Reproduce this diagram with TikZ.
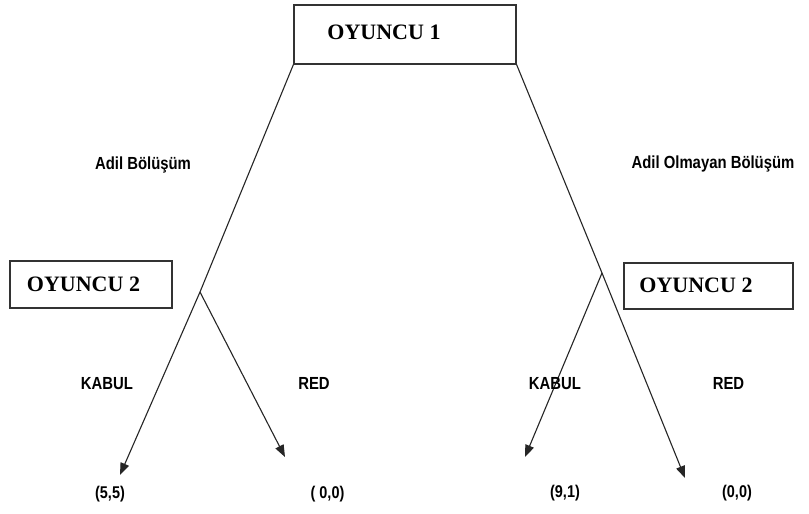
\documentclass[tikz,border=0pt]{standalone}
\usepackage{fontspec}
\newfontfamily\labfont{Liberation Sans}[FakeStretch=0.85]
\newfontfamily\serfont{Liberation Serif}
\usetikzlibrary{arrows.meta}
\tikzset{
  playerbox/.style={draw=black!80, line width=1.2pt, inner sep=0pt},
  playertext/.style={font=\serfont\bfseries\fontsize{22}{24}\selectfont, inner sep=0pt, anchor=center},
  lab/.style={font=\labfont\bfseries\fontsize{17.5}{20}\selectfont, inner sep=0pt, anchor=base},
  pay/.style={font=\labfont\bfseries\fontsize{17}{20}\selectfont, inner sep=0pt, anchor=center},
  branch/.style={draw=black!85, line width=1.1pt},
  move/.style={draw=black!85, line width=1.1pt, -{Triangle[length=12pt,width=9pt]}}
}
\begin{document}
\begin{tikzpicture}[x=1pt,y=-1pt]
\useasboundingbox[fill=white] (0,0) rectangle (809,514);
% player boxes
\node[playerbox, minimum width=222pt, minimum height=59pt] (p1) at (405,34.5) {};
\node[playertext] (t1) at (384,32) {OYUNCU 1};
\node[playerbox, minimum width=162pt, minimum height=47pt] (p2l) at (91,284.5) {};
\node[playertext] (t2l) at (83.5,284.5) {OYUNCU 2};
\node[playerbox, minimum width=169pt, minimum height=46pt] (p2r) at (708.5,286) {};
\node[playertext] (t2r) at (696,285.5) {OYUNCU 2};
% fork points and tips
\coordinate (f1) at (200,292);
\coordinate (f2) at (602,273);
\coordinate (a1) at (120,475);
\coordinate (a2) at (285,457);
\coordinate (a3) at (525,457);
\coordinate (a4) at (685,478);
% branches
\draw[branch] (p1.south west) -- (f1);
\draw[branch] (p1.south east) -- (f2);
\draw[move] (f1) -- (a1);
\draw[move] (f1) -- (a2);
\draw[move] (f2) -- (a3);
\draw[move] (f2) -- (a4);
% labels
\node[lab] (l1) at (143,169) {Adil Bölüşüm};
\node[lab] (l2) at (713,168) {Adil Olmayan Bölüşüm};
\node[lab] (k1) at (107,389) {KABUL};
\node[lab] (r1) at (314,389) {RED};
\node[lab] (k2) at (555,389) {KABUL};
\node[lab] (r2) at (728.5,389) {RED};
% payoffs
\node[pay] (o1) at (110,494) {(5,5)};
\node[pay] (o2) at (327.5,494) {( 0,0)};
\node[pay] (o3) at (565,493.5) {(9,1)};
\node[pay] (o4) at (737,493.5) {(0,0)};
\end{tikzpicture}
\end{document}
